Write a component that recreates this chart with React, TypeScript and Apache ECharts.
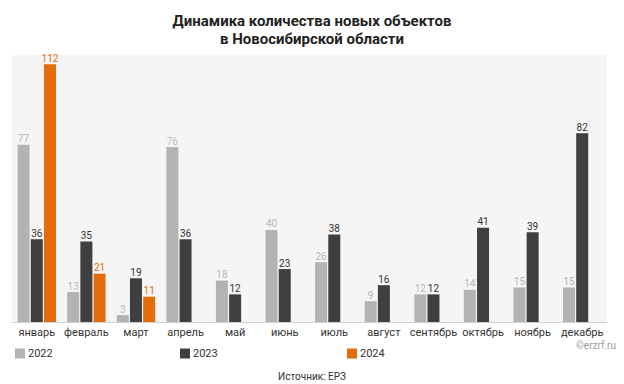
import React, { useEffect, useRef } from "react";
import * as echarts from "echarts";

const months = ["январь", "февраль", "март", "апрель", "май", "июнь", "июль", "август", "сентябрь", "октябрь", "ноябрь", "декабрь"];
const s2022 = [77, 13, 3, 76, 18, 40, 26, 9, 12, 14, 15, 15];
const s2023 = [36, 35, 19, 36, 12, 23, 38, 16, 12, 41, 39, 82];
const s2024: (number | null)[] = [112, 21, 11, null, null, null, null, null, null, null, null, null];
const seriesNames = ["2022", "2023", "2024"];
const colors = ["#b3b3b3", "#3f3f3f", "#e46c0a"];
const labelColors = ["#b8b8b8", "#333333", "#e46c0a"];

export default function App() {
  const ref = useRef<HTMLDivElement>(null);
  useEffect(() => {
    if (!ref.current) return;
    const chart = echarts.init(ref.current, null, { renderer: "svg" });
    const data = [s2022, s2023, s2024];
    chart.setOption({
      animation: false,
      backgroundColor: "#ffffff",
      textStyle: { fontFamily: "Roboto" },
      title: {
        text: "Динамика количества новых объектов\nв Новосибирской области",
        left: "center",
        top: 7,
        textStyle: { fontSize: 15, fontWeight: "bold", color: "#222", lineHeight: 18, fontFamily: "Roboto" },
      },
      legend: seriesNames.map((n, i) => ({
        data: [n],
        left: [10, 175, 342][i],
        top: 343,
        itemWidth: 10,
        itemHeight: 10,
        itemGap: 4,
        icon: "rect",
        textStyle: { fontSize: 11, color: "#333", padding: [0, 0, 0, -2] },
      })),
      grid: {
        left: 12,
        right: 17,
        top: 55,
        bottom: 62,
        show: true,
        backgroundColor: "#f5f5f5",
        borderWidth: 0,
      },
      xAxis: {
        type: "category",
        data: months,
        axisLine: { lineStyle: { color: "#d0d0d0" } },
        axisTick: { show: false },
        axisLabel: { color: "#333", fontSize: 11, margin: 5, interval: 0 },
      },
      yAxis: {
        type: "value",
        min: 0,
        max: 116,
        show: false,
        splitLine: { show: false },
      },
      graphic: [
        {
          type: "text",
          right: 8,
          top: 340,
          style: { text: "©erzrf.ru", fontSize: 10, fill: "#9a9a9a", fontFamily: "Roboto" },
        },
        {
          type: "text",
          left: "center",
          top: 371,
          style: { text: "Источник: ЕРЗ", fontSize: 10, fill: "#333", fontFamily: "Roboto" },
        },
      ],
      series: seriesNames.map((n, i) => ({
        name: n,
        type: "bar",
        data: data[i],
        barWidth: 12,
        barGap: "10%",
        itemStyle: { color: colors[i] },
        label: {
          show: true,
          position: "top",
          distance: 1,
          fontSize: 10,
          color: labelColors[i],
        },
      })),
    });
    return () => chart.dispose();
  }, []);
  return <div ref={ref} style={{ width: 624, height: 384, position: "absolute", left: 0, top: 0 }} />;
}
